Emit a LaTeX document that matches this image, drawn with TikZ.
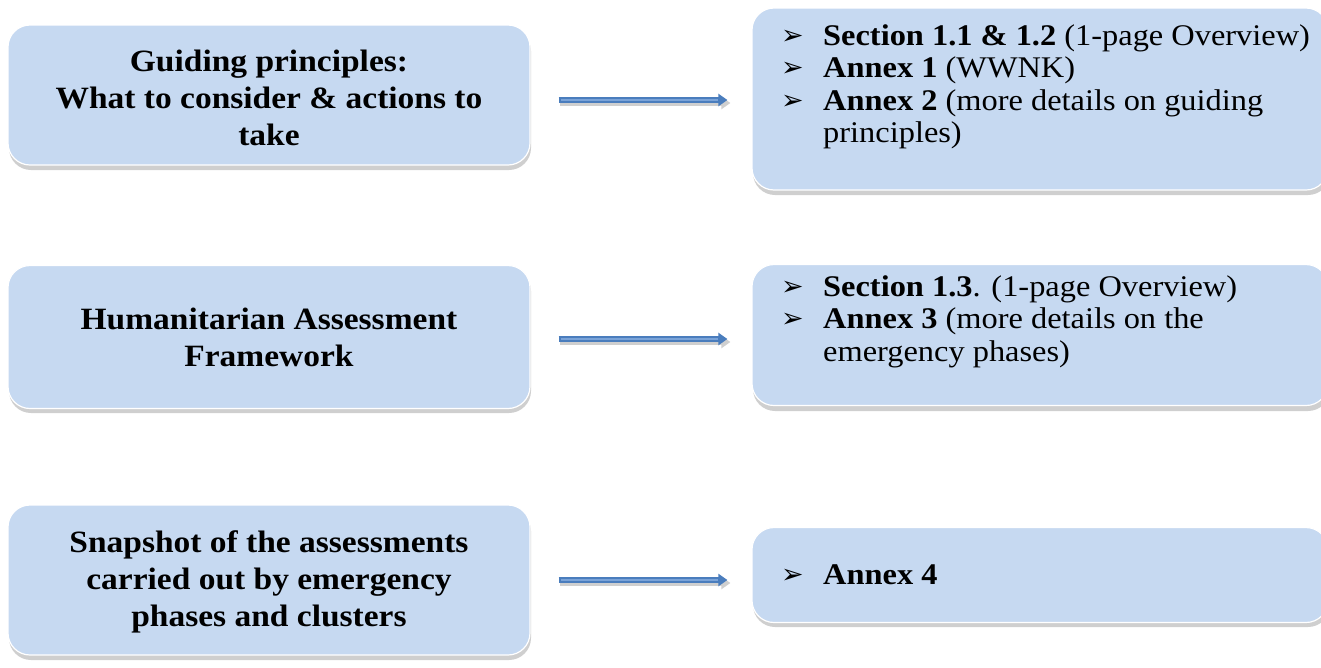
\documentclass[tikz,border=0pt]{standalone}
\usepackage{fontspec}
\setmainfont{Liberation Serif}[FakeStretch=1.08]
\newfontfamily\dejavu{DejaVu Sans}
\usetikzlibrary{arrows.meta,calc}
\definecolor{boxfill}{HTML}{C6D9F1}
\definecolor{shadowgray}{HTML}{CFCFCF}
\definecolor{arrowblue}{HTML}{4A7DBD}
\definecolor{arrowlight}{HTML}{7AA3D8}
\newcommand{\bul}{\makebox[42pt][l]{\raisebox{1pt}{\dejavu\fontsize{27}{30}\selectfont ➢}}}
\tikzset{
  mainbox/.style={rounded corners=22pt, fill=boxfill, draw=white, line width=1.2pt, inner sep=0pt},
  boxshadow/.style={rounded corners=22pt, fill=shadowgray},
  lefttext/.style={font=\fontsize{31}{37}\selectfont\bfseries, align=center},
  righttext/.style={font=\fontsize{30}{32.5}\selectfont, align=left, anchor=north west, inner sep=0pt},
  arrowouter/.style={draw=arrowblue, line width=5.5pt, -{Triangle[length=9pt,width=12pt]}},
  arrowinner/.style={draw=arrowlight, line width=1.8pt},
  arrowshadow/.style={draw=shadowgray, line width=5.5pt, -{Triangle[length=9pt,width=12pt]}, shadowgray}
}
\begin{document}
\begin{tikzpicture}[x=1pt,y=-1pt]
\useasboundingbox (0,0) rectangle (1321,667);
% shadows
\fill[boxshadow] (9,29) rectangle (531,170);
\fill[boxshadow] (9,269) rectangle (531,413);
\fill[boxshadow] (9,509) rectangle (531,660);
\fill[boxshadow] (753,12) rectangle (1330,195);
\fill[boxshadow] (753,269) rectangle (1330,411);
\fill[boxshadow] (753,531) rectangle (1330,627);
% left boxes
\node[mainbox, minimum width=522pt, minimum height=140pt] (l1) at (269,95) {};
\node[lefttext] (t1) at ($(l1.center)+(0,3)$) {Guiding principles:\\What to consider \& actions to\\take};
\node[mainbox, minimum width=522pt, minimum height=143pt] (l2) at (269,337) {};
\node[lefttext] (t2) at (l2.center) {Humanitarian Assessment\\Framework};
\node[mainbox, minimum width=522pt, minimum height=150pt] (l3) at (269,580) {};
\node[lefttext] (t3) at ($(l3.center)+(0,2)$) {Snapshot of the assessments\\carried out by emergency\\phases and clusters};
% right boxes
\node[mainbox, minimum width=576pt, minimum height=182pt] (r1) at (1040,99) {};
\node[righttext] (u1) at (781,24) {\bul\textbf{Section 1.1 \& 1.2} (1-page Overview)\\
\bul\textbf{Annex 1} (WWNK)\\
\bul\textbf{Annex 2} (more details on guiding\\
\hspace*{42pt}principles)};
\node[mainbox, minimum width=576pt, minimum height=141pt] (r2) at (1040,335) {};
\node[righttext] (u2) at (781,275) {\bul\textbf{Section 1.3}. (1-page Overview)\\
\bul\textbf{Annex 3} (more details on the\\
\hspace*{42pt}emergency phases)};
\node[mainbox, minimum width=576pt, minimum height=95pt] (r3) at (1040,575) {};
\node[righttext, anchor=west] (u3) at (781,575) {\bul\textbf{Annex 4}};
% arrows
\foreach \a/\b/\d in {l1/r1/5,l2/r2/2,l3/r3/0}{
  \draw[arrowshadow, shorten <=28pt, shorten >=22pt] ($(\a.east)+(1,3+\d)$) -- ($(\b.west |- \a.east)+(1,3+\d)$);
  \draw[arrowouter, shorten <=28pt, shorten >=24pt] ($(\a.east)+(0,\d)$) -- ($(\b.west |- \a.east)+(0,\d)$);
  \draw[arrowinner, shorten <=30pt, shorten >=33pt] ($(\a.east)+(0,\d)$) -- ($(\b.west |- \a.east)+(0,\d)$);
}
\end{tikzpicture}
\end{document}
